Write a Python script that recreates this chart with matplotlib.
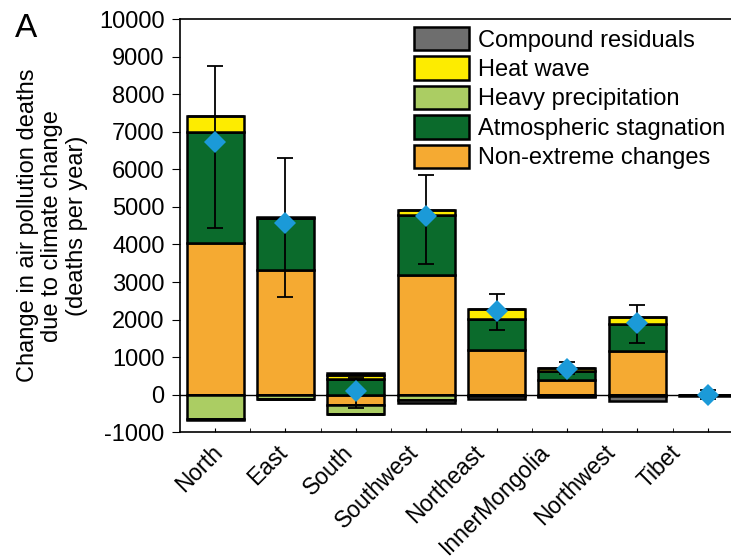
import matplotlib.pyplot as plt
import numpy as np

plt.rcParams["font.family"] = ["Liberation Sans", "DejaVu Sans"]
plt.rcParams["axes.unicode_minus"] = False

regions = ["North", "East", "South", "Southwest", "Northeast",
           "InnerMongolia", "Northwest", "Tibet"]

# signed contributions (deaths per year)
non_extreme = [4030, 3330, -285, 3200, 1180, 380, 1155, -10]
stagnation = [2960, 1370, 430, 1590, 830, 250, 740, 0]
heavy_precip = [-640, -120, -220, -130, -30, -20, -20, -5]
heat_wave = [420, 0, 100, 125, 265, 90, 175, 0]
compound = [-30, 40, 60, -80, -70, -30, -150, -20]

total = [6740, 4580, 90, 4760, 2220, 685, 1920, 0]
err_low = [4440, 2610, -350, 3480, 1730, 540, 1390, -120]
err_high = [8760, 6310, 450, 5850, 2670, 880, 2400, 120]

components = [
    ("Non-extreme changes", non_extreme, "#f5aa32"),
    ("Atmospheric stagnation", stagnation, "#0b6b2c"),
    ("Heavy precipitation", heavy_precip, "#abcd63"),
    ("Heat wave", heat_wave, "#fdec00"),
    ("Compound residuals", compound, "#6e6e6e"),
]

fig = plt.figure(figsize=(7.31, 5.6), dpi=100)
ax = fig.add_axes([0.246, 0.228, 0.754, 0.738])

x = np.arange(len(regions))
pos_base = np.zeros(len(regions))
neg_base = np.zeros(len(regions))
handles = []
for name, vals, color in components:
    vals = np.array(vals, dtype=float)
    pos = np.where(vals > 0, vals, 0)
    neg = np.where(vals < 0, vals, 0)
    h = ax.bar(x, pos, 0.81, bottom=pos_base, color=color, edgecolor="black",
               linewidth=1.8, label=name, zorder=2)
    ax.bar(x, neg, 0.81, bottom=neg_base, color=color, edgecolor="black",
           linewidth=1.8, zorder=2)
    pos_base += pos
    neg_base += neg
    handles.append(h)

ax.axhline(0, color="black", linewidth=1, zorder=1)

total = np.array(total)
yerr = [total - np.array(err_low), np.array(err_high) - total]
ax.errorbar(x, total, yerr=yerr, fmt="none", ecolor="black", elinewidth=1.3,
            capsize=6, capthick=1.3, zorder=3)
ax.plot(x, total, "D", color="#1b9ad8", markersize=11, markeredgewidth=0,
        zorder=4)

ax.set_xlim(-0.5, 7.33)
ax.set_ylim(-1000, 10000)
ax.set_yticks(np.arange(-1000, 10001, 1000))
ax.set_xticks(x)
ax.set_xticks(x[:-1] + 0.5, minor=True)
ax.set_xticklabels([])
# category labels sit a little tighter than the bars in the original
label_x = -0.06 + 0.93 * x
for lx, name in zip(label_x, regions):
    ax.text(lx, -0.02, name, transform=ax.get_xaxis_transform(),
            rotation=45, ha="right", va="top", rotation_mode="anchor",
            fontsize=16.5)
ax.tick_params(axis="y", labelsize=17, direction="out", length=6, pad=5)
ax.tick_params(axis="x", which="both", direction="in", length=3)
ax.spines["right"].set_visible(False)
for s in ["left", "top", "bottom"]:
    ax.spines[s].set_linewidth(1.2)

ax.set_ylabel("Change in air pollution deaths\ndue to climate change\n(deaths per year)",
              fontsize=17, linespacing=1.15, labelpad=8)

fig.text(0.02, 0.934, "A", fontsize=24)

fig.legend(handles[::-1], [c[0] for c in components][::-1],
           loc="upper left", bbox_to_anchor=(0.567, 0.952), frameon=False,
           fontsize=17, handlelength=2.3, handleheight=1.15,
           handletextpad=0.4, labelspacing=0.2, borderpad=0, borderaxespad=0)

fig.savefig("out.png", dpi=100)
